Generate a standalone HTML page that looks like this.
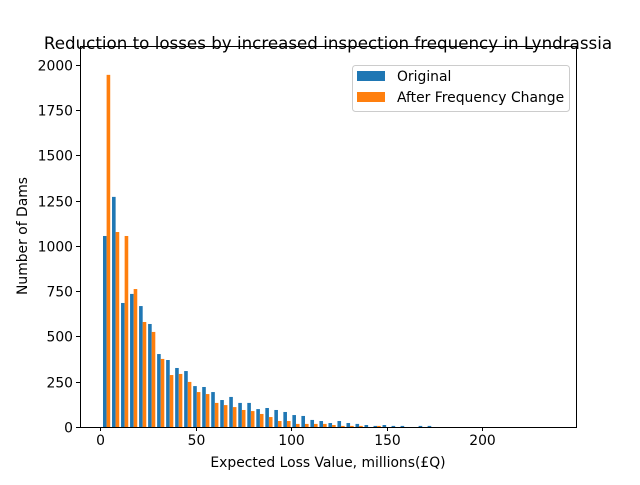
<!DOCTYPE html>
<html><head><meta charset="utf-8"><style>
body{margin:0;background:#fff}
svg text{font-family:"DejaVu Sans","Liberation Sans",sans-serif;fill:#000}
</style></head><body>
<svg id="chart" width="640" height="480" xmlns="http://www.w3.org/2000/svg">
<rect width="640" height="480" fill="#fff"/>
<text x="328" y="49" font-size="16.7" text-anchor="middle">Reduction to losses by increased inspection frequency in Lyndrassia</text>
<g id="bars"></g>
<g id="axes"></g>
<text x="328" y="467" font-size="13.9" text-anchor="middle">Expected Loss Value, millions(£Q)</text>
<text transform="translate(27,236) rotate(-90)" font-size="13.9" text-anchor="middle">Number of Dams</text>
<g>
<rect x="352.5" y="65.5" width="217" height="46" rx="3" fill="#fff" stroke="#ccc"/>
<rect x="357" y="71" width="28" height="10" fill="#1f77b4"/>
<text x="397" y="81" font-size="13.9">Original</text>
<rect x="357" y="92" width="28" height="10" fill="#ff7f0e"/>
<text x="397" y="102" font-size="13.9">After Frequency Change</text>
</g>
</svg>
<script>
const original=[1055,1271,685,735,668,569,403,370,326,309,226,221,193,149,166,133,133,99,105,94,83,66,61,39,33,22,33,22,17,11,6,11,6,6,0,6,6];
const afterChange=[1945,1077,1055,762,580,525,376,287,293,249,193,182,133,121,110,94,88,72,55,33,33,17,17,17,17,11,6,6,6,0,6,0,0,0,0,0,0];
const xTicks=[0,50,100,150,200];
const yTicks=[0,250,500,750,1000,1250,1500,1750,2000];
const binStart=1.1, binWidth=4.72;
const L=80,R=576,T=46,B=427;
const X=u=>100+u*1.9105;
const Y=v=>B-v*0.18105;
const ns="http://www.w3.org/2000/svg";
const bars=document.getElementById('bars'),axes=document.getElementById('axes');
function mk(tag,attrs,parent){const e=document.createElementNS(ns,tag);for(const k in attrs)e.setAttribute(k,attrs[k]);parent.appendChild(e);return e;}
const bw=binWidth*0.4;
original.forEach((v,i)=>{
  const x0=binStart+i*binWidth+binWidth*0.1;
  const r=mk('rect',{x:X(x0),y:Y(v),width:X(x0+bw)-X(x0),height:B-Y(v),fill:'#1f77b4'},bars);
  
  
});
afterChange.forEach((v,i)=>{
  const x0=binStart+i*binWidth+binWidth*0.1+bw;
  const r=mk('rect',{x:X(x0),y:Y(v),width:X(x0+bw)-X(x0),height:B-Y(v),fill:'#ff7f0e'},bars);
  
  
});
const frame=mk('rect',{x:L+0.5,y:T+0.5,width:R-L,height:B-T,fill:'none',stroke:'#000','stroke-width':1},axes);


xTicks.forEach(t=>{
  const x=Math.round(X(t))+0.5;
  mk('line',{x1:x,x2:x,y1:B,y2:B+4,stroke:'#000'},axes);
  const tx=mk('text',{x:x,y:B+18,'font-size':13.9,'text-anchor':'middle'},axes);
  tx.textContent=t;
  
  
});
yTicks.forEach(t=>{
  const y=Math.round(Y(t))+0.5;
  mk('line',{x1:L-4,x2:L,y1:y,y2:y,stroke:'#000'},axes);
  const tx=mk('text',{x:L-7,y:y+5,'font-size':13.9,'text-anchor':'end'},axes);
  tx.textContent=t;
  
  
});
</script>
</body></html>
